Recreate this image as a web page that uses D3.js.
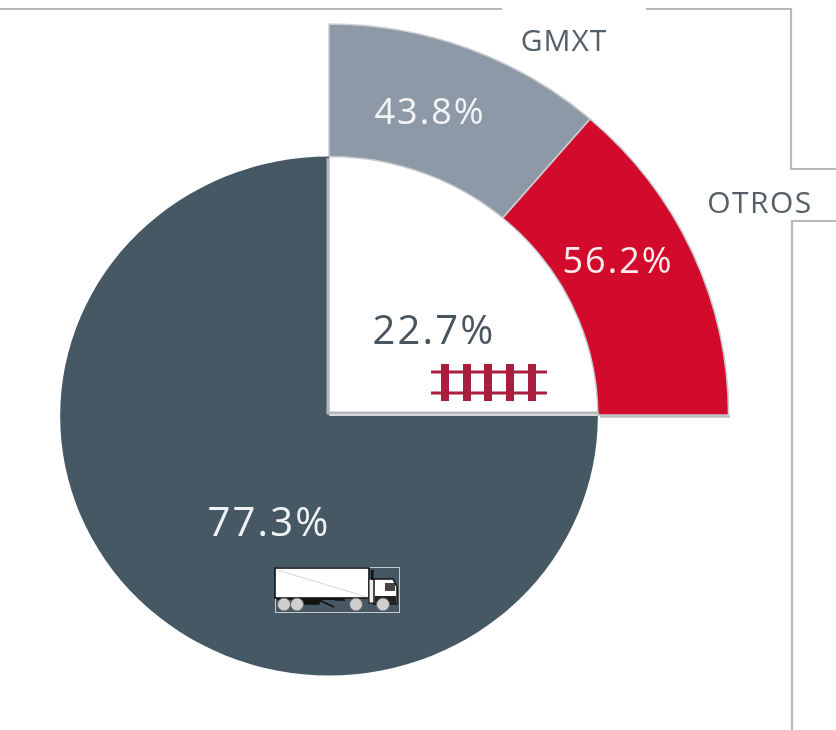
<!DOCTYPE html>
<html><head><meta charset="utf-8">
<script src="https://cdnjs.cloudflare.com/ajax/libs/d3/7.8.5/d3.min.js"></script>
<style>html,body{margin:0;padding:0;background:#fff}svg{display:block}text{font-family:"Open Sans",sans-serif}</style>
</head><body><div id="c"></div>
<script>
const modeNames = ["Ferrocarril", "Autotransporte"];
const modeValues = [22.7, 77.3];
const carrierNames = ["GMXT", "OTROS"];
const carrierValues = [43.8, 56.2];
const modeColors = ["#ffffff", "#465864"];
const carrierColors = ["#8d99a6", "#d20a2b"];

const W = 836, H = 730, cx = 329, cy = 416;
const svg = d3.select("#c").append("svg").attr("width", W).attr("height", H);
const defs = svg.append("defs");
defs.append("filter").attr("id","soft").append("feGaussianBlur").attr("stdDeviation",0.55);
const fmt = v => d3.format(".1f")(v) + "%";

// Frame lines behind the chart
const frame = d3.line();
svg.selectAll("path.frame")
  .data([[[0,9],[502,9]], [[646,9],[791,9],[791,169],[836,169]], [[836,221],[792,221],[792,730]]])
  .join("path").attr("class","frame").attr("d", frame)
  .attr("fill","none").attr("stroke","#b9b9b9").attr("stroke-width",2.2);

// Angle scales: the drawing is schematic, share 22.7 fills a full quadrant
const modeAngle = d3.scaleLinear().domain([0, modeValues[0], 100]).range([0, Math.PI/2, 2*Math.PI]);
const carrierAngle = d3.scaleLinear().domain([0, carrierValues[0], 100]).range([0, 40.8*Math.PI/180, Math.PI/2]);
const cum = a => { let s = 0; return a.map(v => { const r = [s, s+v]; s += v; return r; }); };

const ring = svg.append("g").attr("transform", `translate(${cx},${cy-1}) scale(1.022,1)`);
const ringArc = d3.arc().innerRadius(0).outerRadius(391);
ring.selectAll("path").data(cum(carrierValues)).join("path")
  .attr("d", d => ringArc({startAngle: carrierAngle(d[0]), endAngle: carrierAngle(d[1])}))
  .attr("fill", (d,i) => carrierColors[i])
  .attr("stroke", "#c9cdd1").attr("stroke-width", 1.6);

const inner = svg.append("g").attr("transform", `translate(${cx},${cy}) scale(1.036,1)`);
const innerArc = d3.arc().innerRadius(0).outerRadius(259.5);
inner.selectAll("path").data(cum(modeValues)).join("path")
  .attr("d", d => innerArc({startAngle: modeAngle(d[0]), endAngle: modeAngle(d[1])}))
  .attr("fill", (d,i) => modeColors[i])
  .attr("stroke", (d,i) => i === 0 ? "#c4c9ce" : "none").attr("stroke-width", 1.4);

// Quadrant edge lines
svg.append("path").attr("d", d3.line()([[cx-1,158],[cx-1,cy-3],[599,cy-3]]))
  .attr("fill","none").attr("stroke","#b4b8bc").attr("stroke-width",3);
svg.append("path").attr("d", d3.line()([[600,cy+0.5],[730,cy+0.5]]))
  .attr("fill","none").attr("stroke","#bdbdbd").attr("stroke-width",2.5);

// Rail icon
const rail = svg.append("g").attr("transform","translate(489,382.5)").attr("fill","#a91d3e");
rail.selectAll("rect.r").data([-10.5, 10.5]).join("rect").attr("class","r")
  .attr("x",-58).attr("width",116).attr("y",d=>d-1.5).attr("height",3);
rail.selectAll("rect.t").data([-44,-22,-1,21,43]).join("rect").attr("class","t")
  .attr("x",d=>d-4).attr("width",8).attr("y",-18.5).attr("height",37);

// Truck icon
const truck = svg.append("g").attr("transform","translate(275,567)");
truck.append("rect").attr("x",0.5).attr("y",0.5).attr("width",124).attr("height",45)
  .attr("fill","none").attr("stroke","#c4cace").attr("stroke-width",1);
truck.append("rect").attr("x",0).attr("y",1).attr("width",94).attr("height",30)
  .attr("fill","#fff").attr("stroke","#111").attr("stroke-width",1.6);
truck.append("line").attr("x1",2).attr("y1",3).attr("x2",92).attr("y2",30)
  .attr("stroke","#ccc").attr("stroke-width",0.8);
truck.append("path").attr("d","M2 32H68L60 33 70 33 M29 32H44V37H29Z M44 33L59 40").attr("stroke","#111").attr("stroke-width",1.5).attr("fill","#111");
truck.append("rect").attr("x",94).attr("y",12).attr("width",6).attr("height",24).attr("fill","#eee").attr("stroke","#111");
truck.append("path").attr("d","M99 12H118L122 20V37H99Z").attr("fill","#fff").attr("stroke","#111").attr("stroke-width",1.5);
truck.append("rect").attr("x",110).attr("y",16).attr("width",10).attr("height",8).attr("fill","#444");
truck.append("rect").attr("x",100).attr("y",29).attr("width",21).attr("height",8).attr("fill","#222");
truck.append("rect").attr("x",96).attr("y",3).attr("width",2.5).attr("height",10).attr("fill","#111");
truck.selectAll("circle").data([9,22,81,108]).join("circle")
  .attr("cx",d=>d).attr("cy",37.5).attr("r",6.5).attr("fill","#cfcfcf").attr("stroke","#666").attr("stroke-width",1);

// Text
const t = (x,y,s,size,fill,sp) => svg.append("text").attr("x",x).attr("y",y).text(s)
  .attr("font-size",size).attr("fill",fill).attr("letter-spacing",sp).attr("text-anchor","middle")
  .attr("filter","url(#soft)").attr("font-weight",500);
t(430,124,fmt(carrierValues[0]),36,"#f2f4f6",2);
t(618,273,fmt(carrierValues[1]),36,"#faecee",2);
t(434,344,fmt(modeValues[0]),40,"#4a545e",2.2);
t(269,536,fmt(modeValues[1]),40,"#f0f3f5",2.2);
t(564,51,carrierNames[0],30,"#566069",1);
t(760,213,carrierNames[1],30,"#566069",1.5);
</script></body></html>
